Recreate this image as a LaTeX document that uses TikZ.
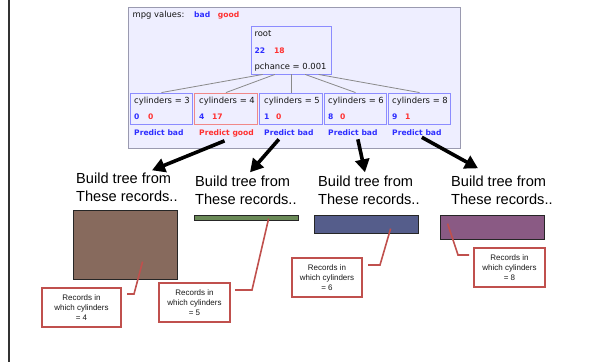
\documentclass[tikz,border=0pt]{standalone}
\usepackage{fontspec}
\setmainfont{Liberation Sans}
\newfontfamily\panelfont{DejaVu Sans}
\usetikzlibrary{arrows.meta,calc}

\definecolor{panelbg}{HTML}{EEEEFF}
\definecolor{panelframe}{HTML}{9A9AB0}
\definecolor{valblue}{HTML}{2E2EFF}
\definecolor{valred}{HTML}{FF3030}
\definecolor{boxblue}{HTML}{8C8CFF}
\definecolor{boxred}{HTML}{F08888}
\definecolor{treeline}{HTML}{8A8A8A}
\definecolor{calloutred}{HTML}{C0504D}
\definecolor{brownrec}{HTML}{876A5D}
\definecolor{greenrec}{HTML}{6A8A57}
\definecolor{bluerec}{HTML}{555D8B}
\definecolor{purplerec}{HTML}{8A5A84}

\begin{document}
\begin{tikzpicture}[x=1pt,y=-1pt,
  ptxt/.style={font=\panelfont\fontsize{8.4}{10}\selectfont, text=black!92, inner sep=0pt, anchor=base west},
  pbold/.style={font=\panelfont\bfseries\fontsize{7.6}{10}\selectfont, inner sep=0pt, anchor=base west},
  treebox/.style={draw=boxblue, line width=0.9pt, fill=panelbg, minimum width=62.5pt, minimum height=31pt, inner sep=0pt},
  edge/.style={draw=treeline, line width=0.8pt},
  bigarrow/.style={line width=3.6pt, -{Triangle[length=13pt,width=14pt]}},
  buildtxt/.style={font=\fontsize{14.6}{18.5}\selectfont, align=left, anchor=north west, inner sep=0pt},
  recbar/.style={draw=black!85, line width=0.8pt, inner sep=0pt},
  callout/.style={draw=calloutred, line width=2pt, fill=white, inner sep=0pt, align=center,
    font=\fontsize{8}{10}\selectfont, text=black!90},
  callline/.style={draw=calloutred, line width=1.6pt}]
\useasboundingbox (0,0) rectangle (591,362);

% page rule on the left
\draw[line width=2pt, black!80] (9,0) -- (9,362);

% decision-tree panel
\draw[draw=panelframe, fill=panelbg, line width=0.8pt] (128,7) rectangle (460,148);
\node[ptxt] (mpg) at (132.5,17.3) {mpg values:};
\node[pbold, text=valblue] (lbad) at (194,17.3) {bad};
\node[pbold, text=valred] (lgood) at (217.7,17.3) {good};

% root node
\node[treebox, minimum width=80pt, minimum height=48pt] (root) at (291,50) {};
\node[ptxt] (rname) at (254.3,36) {root};
\node[pbold, text=valblue] (rbad) at (254.3,53) {22};
\node[pbold, text=valred] (rgood) at (274,53) {18};
\node[ptxt] (rchance) at (254.3,69) {pchance = 0.001};

% children
\node[treebox] (k3) at (161.5,108.5) {};
\node[treebox, draw=boxred] (k4) at (226,108.5) {};
\node[treebox] (k5) at (291,108.5) {};
\node[treebox] (k6) at (355.5,108.5) {};
\node[treebox] (k8) at (419.5,108.5) {};

\foreach \nm/\x/\xx/\lab/\na/\nb in {3/134/148/3/0/0, 5/264/276/5/1/0, 6/328/340/6/8/0, 8/392/405/8/9/1}{
  \node[ptxt] (t\nm) at (\x,103) {cylinders = \lab};
  \node[pbold, text=valblue] (a\nm) at (\x,119) {\na};
  \node[pbold, text=valred] (b\nm) at (\xx,119) {\nb};
  \node[pbold, text=valblue] (p\nm) at (\x,135) {Predict bad};
}
\node[ptxt] (t4) at (199,103) {cylinders = 4};
\node[pbold, text=valblue] (a4) at (199,119) {4};
\node[pbold, text=valred] (b4) at (212,119) {17};
\node[pbold, text=valred] (p4) at (199,135) {Predict good};

% tree edges
\draw[edge] ($(root.south west)!0.15!(root.south east)$) -- (k3.north);
\draw[edge] ($(root.south west)!0.30!(root.south east)$) -- (k4.north);
\draw[edge] (root.south) -- (k5.north);
\draw[edge] ($(root.south west)!0.675!(root.south east)$) -- (k6.north);
\draw[edge] ($(root.south west)!0.84!(root.south east)$) -- (k8.north);

% "build tree" labels
\node[buildtxt] (g4) at (76,172.3) {Build tree from\\These records..};
\node[buildtxt] (g5) at (195,175.3) {Build tree from\\These records..};
\node[buildtxt] (g6) at (318,175.3) {Build tree from\\These records..};
\node[buildtxt] (g8) at (451,175.3) {Build tree from\\These records..};

% arrows from predictions to labels
\draw[bigarrow] ($(p4.south)+(-2,4)$) -- ($(g4.north west)+(76,-2)$);
\draw[bigarrow] ($(p5.south)+(-10,4)$) -- ($(g5.north west)+(55,-3)$);
\draw[bigarrow] ($(p6.south)+(5,4)$) -- ($(g6.north west)+(47,-3)$);
\draw[bigarrow] ($(p8.south)+(5,2)$) -- ($(g8.north west)+(27,-7)$);

% record bars
\node[recbar, fill=brownrec, minimum width=104pt, minimum height=69pt] (r4) at (125,244.5) {};
\node[recbar, fill=greenrec, minimum width=104pt, minimum height=5pt] (r5) at (246,217.5) {};
\node[recbar, fill=bluerec, minimum width=104pt, minimum height=18pt] (r6) at (366,224) {};
\node[recbar, fill=purplerec, minimum width=104pt, minimum height=24pt] (r8) at (492,227) {};

% callouts
\node[callout, minimum width=79pt, minimum height=39pt] (c4) at (81.5,307.5) {Records in\\which cylinders\\= 4};
\node[callout, minimum width=71pt, minimum height=39pt] (c5) at (194.5,302.5) {Records in\\which cylinders\\= 5};
\node[callout, minimum width=70pt, minimum height=39pt] (c6) at (327,277.5) {Records in\\which cylinders\\= 6};
\node[callout, minimum width=71pt, minimum height=39pt] (c8) at (509.5,267.5) {Records in\\which cylinders\\= 8};

\coordinate (q4) at ($(r4.north west)+(70,52)$);
\coordinate (q5) at ($(r5.north west)+(75,4)$);
\coordinate (q6) at ($(r6.north west)+(77,14)$);
\coordinate (q8) at ($(r8.north west)+(8,9)$);

\draw[callline] ($(c4.north east)+(5,7)$) -- ++(7,0) -- (q4);
\draw[callline] ($(c5.north east)+(4,8)$) -- ++(17,0) -- (q5);
\draw[callline] ($(c6.north east)+(5,8)$) -- ++(12,0) -- (q6);
\draw[callline] (q8) -- ($(c8.north west)+(-15,8)$) -- ($(c8.north west)+(-4,8)$);
\end{tikzpicture}
\end{document}
